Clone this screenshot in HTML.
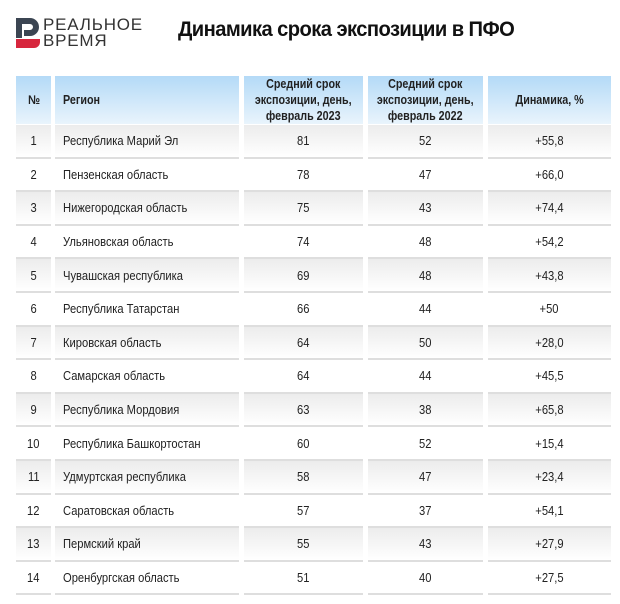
<!DOCTYPE html>
<html><head><meta charset="utf-8"><style>
*{margin:0;padding:0;box-sizing:border-box}
body{width:620px;height:604px;background:#fff;font-family:"Liberation Sans",sans-serif;color:#222;position:relative;overflow:hidden}
.title{position:absolute;left:178px;top:18px;font-size:21px;font-weight:bold;letter-spacing:-0.6px;color:#111;transform:scaleX(0.96);transform-origin:left}
.logo{position:absolute;left:14px;top:18px}
.lt{position:absolute;left:43px;font-size:17px;color:#333;letter-spacing:0.8px;line-height:16px}
.cell{position:absolute;display:flex;align-items:center;font-size:13px}
.cell span{display:inline-block;transform:scaleX(0.86);white-space:nowrap}
.cell.l span{transform-origin:left}
.h{background:linear-gradient(#b4daf7,#e9f4fc);font-weight:bold;font-size:12.5px;text-align:center;justify-content:center;line-height:16px}
.c{justify-content:center}
.line{position:absolute;height:2px;background:#dedede}
.g{position:absolute;background:linear-gradient(#ececec,#fff)}
</style></head><body>
<svg class="logo" width="28" height="30" viewBox="0 0 28 30">
<path d="M2 0h14a9 9 0 0 1 0 18H10v-6h6a3 3 0 0 0 0-6H8v14H2z" fill="#3b4552"/>
<path d="M2 21h24v3a6 6 0 0 1-6 6H2z" fill="#d7263d"/>
</svg>
<div class="lt" style="top:17px">РЕАЛЬНОЕ</div>
<div class="lt" style="top:33px">ВРЕМЯ</div>
<div class="title">Динамика срока экспозиции в ПФО</div>
<div id="t"></div>
<script>
const cols=[[16,35],[55,184],[244,119],[368,115],[488,123]];
const d=[["Республика Марий Эл",81,52,"+55,8"],["Пензенская область",78,47,"+66,0"],["Нижегородская область",75,43,"+74,4"],["Ульяновская область",74,48,"+54,2"],["Чувашская республика",69,48,"+43,8"],["Республика Татарстан",66,44,"+50"],["Кировская область",64,50,"+28,0"],["Самарская область",64,44,"+45,5"],["Республика Мордовия",63,38,"+65,8"],["Республика Башкортостан",60,52,"+15,4"],["Удмуртская республика",58,47,"+23,4"],["Саратовская область",57,37,"+54,1"],["Пермский край",55,43,"+27,9"],["Оренбургская область",51,40,"+27,5"]];
let h="";
const hd=["№","Регион","Средний срок<br>экспозиции, день,<br>февраль 2023","Средний срок<br>экспозиции, день,<br>февраль 2022","Динамика, %"];
cols.forEach((c,i)=>{h+=`<div class="cell h ${i==1?'l':''}" style="left:${c[0]}px;top:76px;width:${c[1]}px;height:48px;${i==1?'justify-content:flex-start;padding-left:8px':''}"><span>${hd[i]}</span></div>`;});
const pitch=33.6;
d.forEach((r,k)=>{
 const y=125+k*pitch;
 cols.forEach((c,i)=>{
  if(k%2==0)h+=`<div class="g" style="left:${c[0]}px;top:${y}px;width:${c[1]}px;height:${pitch-2}px"></div>`;
  h+=`<div class="line" style="left:${c[0]}px;top:${y+pitch-2}px;width:${c[1]}px"></div>`;
  const v=[k+1,r[0],r[1],r[2],r[3]][i];
  h+=`<div class="cell ${i==1?'l':'c'}" style="left:${c[0]}px;top:${y}px;width:${c[1]}px;height:${pitch-2}px;${i==1?'padding-left:8px':''}"><span>${v}</span></div>`;
 });
});
document.getElementById('t').innerHTML=h;
</script>
</body></html>
